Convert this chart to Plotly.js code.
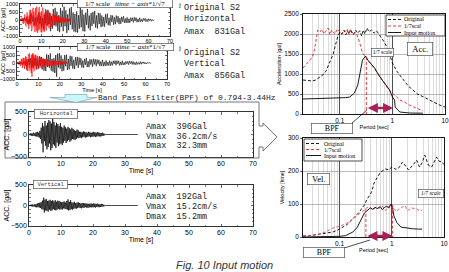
<!DOCTYPE html>
<html><head><meta charset="utf-8">
<script src="https://cdn.plot.ly/plotly-3.0.1.min.js"></script>
<style>html,body{margin:0;padding:0;background:#fff}#fig{width:449px;height:272px}</style>
</head><body><div id="fig"></div>
<script>
// ---------- acceleration records [gal] ----------
const dtOrig = 0.42;                  // sampling of the plotted original records [s]
const timeScale = 1 / Math.sqrt(7);   // 1/7 model: time axis * 1/sqrt(7)

const hOrig = [
  0, 40, -30, 90, -60, 150, -40, 120, -200, 60,
  -250, 120, -180, 350, -90, 280, -320, 150, -400, 210,
  -150, 480, -280, 220, -460, 120, -560, 300, -200, 600,
  -340, 640, -250, 460, -700, 240, -540, 680, -320, 760,
  -400, 520, -680, 300, -760, 740, -420, 580, -700, 831,
  -390, 600, -810, 360, -640, 720, -300, 810, -580, 470,
  -720, 380, -760, 540, -790, 300, -540, 780, -460, 640,
  -700, 340, -720, 460, -300, 690, -520, 280, -650, 440,
  -380, 500, -240, 570, -470, 290, -530, 440, -250, 420,
  -450, 280, -400, 180, -420, 350, -200, 400, -320, 140,
  -350, 300, -120, 280, -300, 160, -260, 280, -150, 240,
  -260, 120, -240, 200, -110, 230, -180, 90, -190, 170,
  -180, 80, -170, 150, -60, 140, -150, 170, -70, 150,
  -140, 60, -130, 140, -110, 50, -120, 100, -40, 110,
  -100, 50, -100, 80, -40, 70, -80, 30, -50, 0
];
const vOrig = [
  0, 30, -20, 80, -60, 40, -120, 90, -50, 130,
  -180, 70, -160, 250, -100, 280, -300, 120, -260, 320,
  -150, 300, -380, 200, -320, 420, -180, 380, -400, 250,
  -480, 220, -500, 550, -250, 500, -300, 600, -480, 260,
  -550, 300, -620, 500, -856, 580, -280, 620, -350, 480,
  -520, 260, -480, 500, -200, 520, -420, 250, -400, 450,
  -180, 420, -350, 200, -380, 350, -150, 380, -300, 340,
  -120, 300, -280, 150, -300, 260, -110, 300, -250, 120,
  -260, 240, -100, 220, -240, 260, -90, 230, -200, 220,
  -80, 200, -190, 90, -180, 190, -200, 70, -180, 160,
  -170, 60, -160, 150, -170, 80, -150, 140, -60, 150,
  -140, 150, -50, 140, -150, 60, -130, 140, -120, 40,
  -120, 110, -50, 100, -110, 120, -40, 110, -90, 100,
  -100, 40, -110, 80, -90, 30, -80, 90, -80, 70,
  -30, 70, -60, 20, -60, 50, -20, 40, -30, 0
];

// band-pass filtered input motions (1/7 model time)
const dtBpf = 0.2;
const bpfRecordEnd = 34;
const hBpf = [
  0, 10, -20, 30, -25, 20, -35, 40, -30, 25,
  -40, 50, -45, 60, -50, 40, -70, 80, -100, 150,
  -200, 250, -396, 180, -150, 300, -250, 200, -330, 260,
  -280, 320, -200, 290, -350, 240, -300, 350, -220, 280,
  -250, 200, -300, 260, -180, 230, -260, 190, -220, 250,
  -200, 170, -230, 150, -180, 200, -140, 160, -190, 130,
  -150, 170, -120, 140, -160, 110, -130, 150, -100, 120,
  -110, 90, -120, 80, -100, 110, -70, 90, -80, 60,
  -70, 60, -80, 50, -60, 70, -50, 60, -70, 50,
  -60, 40, -50, 60, -40, 50, -60, 40, -50, 45,
  -50, 60, -40, 50, -55, 40, -45, 50, -40, 45,
  -40, 35, -45, 30, -35, 40, -30, 25, -20, 0
];
const vBpf = [
  0, 10, -15, 20, -20, 25, -30, 20, -25, 30,
  -40, 35, -45, 50, -40, 60, -50, 70, -60, 80,
  -90, 120, -100, 192, -170, 140, -120, 160, -130, 110,
  -150, 120, -100, 140, -130, 110, -120, 130, -90, 100,
  -110, 130, -120, 90, -100, 120, -80, 110, -100, 90,
  -90, 80, -100, 90, -70, 100, -80, 70, -90, 110,
  -100, 150, -120, 90, -110, 130, -90, 80, -100, 70,
  -80, 90, -70, 60, -80, 70, -60, 80, -50, 60,
  -60, 50, -70, 60, -50, 60, -60, 50, -40, 55,
  -50, 45, -55, 40, -50, 45, -40, 50, -45, 40,
  -45, 50, -40, 45, -50, 40, -35, 45, -40, 35,
  -40, 30, -35, 40, -30, 35, -25, 20, -15, 0
];

// ---------- response spectra ----------
const accPeriodOrig = [0.02,0.025,0.03,0.035,0.04,0.045,0.05,0.055,0.06,0.065,0.07,0.075,0.08,0.085,0.09,0.1,0.11,0.12,0.13,0.14,0.15,0.16,0.17,0.18,0.2,0.22,0.24,0.26,0.28,0.3,0.33,0.36,0.4,0.45,0.5,0.55,0.6,0.7,0.8,0.9,1.0,1.2,1.4,1.7,2,2.5,3,4,5,6,7,8,10];
const accOrig       = [850,830,825,850,900,950,1000,1080,1200,1300,1400,1500,1650,1800,1900,2050,2000,2100,1980,2080,2000,2120,2050,1980,2100,2020,2080,1950,2100,2000,2150,2050,2100,2020,2080,2000,1950,1800,1650,1450,1280,1080,950,820,700,580,500,420,350,300,260,220,175];
const accPeriodScaled = [0.02,0.022,0.025,0.028,0.03,0.033,0.036,0.038,0.042,0.046,0.05,0.055,0.06,0.065,0.07,0.075,0.08,0.09,0.1,0.11,0.12,0.13,0.14,0.15,0.16,0.18,0.2,0.21,0.24,0.27,0.31,0.36,0.41,0.5,0.58,0.7,0.81,0.95,1.1,1.38,1.7,2.1,2.8,3.8];
const accScaled       = [1150,1220,1300,1380,1420,1600,1925,2100,2050,2120,2000,2080,2150,1980,2100,2050,2000,2120,2060,1990,2100,2040,2110,1980,2060,2000,2050,2000,1775,1525,1425,1300,1225,1050,925,760,650,530,475,350,300,225,160,75];
const accPeriodInput = [0.02,0.03,0.05,0.07,0.1,0.13,0.155,0.19,0.22,0.24,0.26,0.27,0.31,0.34,0.41,0.46,0.58,0.72,0.89,1.0,1.1,1.13,1.38,2.1,3.8];
const accInput       = [375,380,385,390,400,410,425,525,725,975,1175,1350,1450,1350,1225,1150,925,775,600,425,350,175,50,25,20];

const velPeriodOrig = [0.02,0.03,0.042,0.055,0.074,0.09,0.114,0.14,0.18,0.21,0.24,0.27,0.3,0.33,0.37,0.41,0.46,0.53,0.61,0.76,0.88,1.0,1.2,1.38,1.6,1.85,2.1,2.6,3.0,3.4,3.8,4.3,5.0,5.8,6.5,7.2,8.0,9.0,10];
const velOrig       = [3,5,9,11,15,20,30,38,55,65,76,88,97,112,125,136,164,182,197,206,204,212,205,210,227,215,203,220,233,212,225,248,218,212,228,242,230,227,220];
const velPeriodScaled = [0.02,0.03,0.042,0.055,0.074,0.09,0.114,0.155,0.21,0.26,0.33,0.38,0.43,0.5,0.58,0.66,0.76,0.87,1.0,1.1,1.2,1.38,1.6,1.8,2.0,2.4,3.0,3.5,3.8];
const velScaled       = [2,5,9,16,27,31,36,46,64,76,88,92,82,90,87,94,80,93,100,86,78,85,91,95,80,88,85,78,82];
const velPeriodInput = [0.02,0.05,0.074,0.1,0.13,0.18,0.22,0.26,0.3,0.35,0.39,0.43,0.48,0.53,0.6,0.66,0.73,0.8,0.88,0.97,1.03,1.1,1.25,1.5,1.85,2.5,3.3,3.8];
const velInput       = [0,0,1,2,4,15,30,52,73,82,88,84,90,86,92,83,90,93,88,100,90,64,44,30,27,25,24,24];

const bpfPeriods = [0.32, 1.03];   // band edges marked on the spectra [s]

// ---------- helpers ----------
const W = 449, H = 272;
const px = x => x / W;
const py = y => 1 - y / H;
const times = (n, dt, scale) => Array.from({length: n}, (_, i) => i * dt * scale);

const sans = 'Liberation Sans, Arial, sans-serif';
const serif = 'Liberation Serif, Times New Roman, serif';
const mono = 'Liberation Mono, Courier New, monospace';

const traces = [];
// original records: black = prototype time, red = 1/7 scaled time
traces.push({x: times(hOrig.length, dtOrig, 1), y: hOrig, xaxis: 'x', yaxis: 'y', mode: 'lines', line: {color: '#000', width: 0.6}});
traces.push({x: times(hOrig.length, dtOrig, timeScale), y: hOrig, xaxis: 'x', yaxis: 'y', mode: 'lines', line: {color: '#ff0000', width: 0.6}});
traces.push({x: times(vOrig.length, dtOrig, 1), y: vOrig, xaxis: 'x2', yaxis: 'y2', mode: 'lines', line: {color: '#000', width: 0.6}});
traces.push({x: times(vOrig.length, dtOrig, timeScale), y: vOrig, xaxis: 'x2', yaxis: 'y2', mode: 'lines', line: {color: '#ff0000', width: 0.6}});
// filtered inputs
function withTail(vals) {
  const t = times(vals.length, dtBpf, 1);
  return {x: t.concat([bpfRecordEnd]), y: vals.concat([0])};
}
const hb = withTail(hBpf), vb = withTail(vBpf);
traces.push({x: hb.x, y: hb.y, xaxis: 'x3', yaxis: 'y3', mode: 'lines', line: {color: '#000', width: 0.7}});
traces.push({x: vb.x, y: vb.y, xaxis: 'x4', yaxis: 'y4', mode: 'lines', line: {color: '#000', width: 0.7}});
// acceleration spectra
traces.push({x: accPeriodOrig, y: accOrig, xaxis: 'x5', yaxis: 'y5', mode: 'lines', line: {color: '#000', width: 0.9, dash: '3px,2px'}});
traces.push({x: accPeriodScaled, y: accScaled, xaxis: 'x5', yaxis: 'y5', mode: 'lines', line: {color: '#e8202a', width: 0.9, dash: '3px,2px'}});
traces.push({x: accPeriodInput, y: accInput, xaxis: 'x5', yaxis: 'y5', mode: 'lines', line: {color: '#000', width: 0.9}});
traces.push({x: [bpfPeriods[0], bpfPeriods[0]], y: [1425, 0], xaxis: 'x5', yaxis: 'y5', mode: 'lines', line: {color: '#e8202a', width: 0.9, dash: '3px,2px'}});
// velocity spectra
traces.push({x: velPeriodOrig, y: velOrig, xaxis: 'x6', yaxis: 'y6', mode: 'lines', line: {color: '#000', width: 0.9, dash: '3px,2px'}});
traces.push({x: velPeriodScaled, y: velScaled, xaxis: 'x6', yaxis: 'y6', mode: 'lines', line: {color: '#e8505a', width: 0.9, dash: '3px,2px'}});
traces.push({x: velPeriodInput, y: velInput, xaxis: 'x6', yaxis: 'y6', mode: 'lines', line: {color: '#000', width: 0.9}});
traces.push({x: [bpfPeriods[0], bpfPeriods[0]], y: [85, 0], xaxis: 'x6', yaxis: 'y6', mode: 'lines', line: {color: '#e8202a', width: 0.9, dash: '3px,2px'}});
traces.push({x: [bpfPeriods[1], bpfPeriods[1]], y: [95, 0], xaxis: 'x6', yaxis: 'y6', mode: 'lines', line: {color: '#e8202a', width: 0.9, dash: '3px,2px'}});
traces.forEach(t => { t.showlegend = false; t.hoverinfo = 'skip'; });

// ---------- axes ----------
function timeAxis(x0, x1, anchor, title, fs) {
  return {
    domain: [px(x0), px(x1)], anchor: anchor, range: [0, 70], dtick: 10,
    ticks: 'inside', ticklen: 2.5, tickwidth: 0.6, tickcolor: '#000',
    minor: {ticks: 'inside', dtick: 5, ticklen: 1.5, tickwidth: 0.5, tickcolor: '#000'},
    showline: true, linecolor: '#000', linewidth: 0.8, mirror: 'ticks',
    showgrid: false, zeroline: false, fixedrange: true,
    tickfont: {family: sans, size: fs, color: '#000'},
    title: title ? {text: title, font: {family: sans, size: fs, color: '#000'}, standoff: 0} : undefined
  };
}
function accAxis(y0, y1, anchor, lim, minorStep, title, fs) {
  return {
    domain: [py(y1), py(y0)], anchor: anchor, range: [-lim, lim], dtick: 500,
    ticks: 'inside', ticklen: 2.5, tickwidth: 0.6, tickcolor: '#000',
    minor: {ticks: 'inside', dtick: minorStep, ticklen: 1.5, tickwidth: 0.5, tickcolor: '#000'},
    showline: true, linecolor: '#000', linewidth: 0.8, mirror: 'ticks',
    showgrid: false, zeroline: false, fixedrange: true,
    tickfont: {family: sans, size: fs, color: '#000'},
    title: {text: title, font: {family: sans, size: fs, color: '#000'}, standoff: 0}
  };
}
const minorPeriods = [];
[0.01, 0.1, 1].forEach(d => { for (let k = 2; k <= 9; k++) minorPeriods.push(+(k * d).toFixed(3)); });
function periodAxis(x0, x1, anchor) {
  return {
    domain: [px(x0), px(x1)], anchor: anchor, type: 'log',
    range: [Math.log10(0.02), 1], tickvals: [0.1, 1, 10], ticktext: ['0.1', '1', '10'],
    ticks: '', showgrid: true, gridcolor: '#222', gridwidth: 0.8,
    minor: {tickmode: 'array', tickvals: minorPeriods, showgrid: true, gridcolor: '#b8b8b8', gridwidth: 0.5, ticks: ''},
    showline: true, linecolor: '#000', linewidth: 0.9, mirror: true, zeroline: false, fixedrange: true,
    tickfont: {family: sans, size: 6.5, color: '#000'},
    title: {text: 'Period [sec]', font: {family: sans, size: 5.5, color: '#000'}, standoff: 2}
  };
}
function specAxis(y0, y1, anchor, max, dt, title) {
  return {
    domain: [py(y1), py(y0)], anchor: anchor, range: [0, max], dtick: dt,
    ticks: 'outside', ticklen: 2, tickwidth: 0.6, tickcolor: '#000',
    showgrid: true, gridcolor: '#8a8a8a', gridwidth: 0.6,
    showline: true, linecolor: '#000', linewidth: 0.9, mirror: true, zeroline: false, fixedrange: true,
    tickfont: {family: sans, size: 6.5, color: '#000'},
    title: {text: title, font: {family: sans, size: 5.5, color: '#000'}, standoff: 2}
  };
}

// ---------- annotations ----------
const ann = [];
function txt(x, y, text, font, opts) {
  ann.push(Object.assign({xref: 'paper', yref: 'paper', x: px(x), y: py(y), text: text, showarrow: false,
    xanchor: 'left', yanchor: 'middle', font: font}, opts || {}));
}
function boxed(cx, cy, w, h, text, font) {
  ann.push({xref: 'paper', yref: 'paper', x: px(cx), y: py(cy), text: text, showarrow: false,
    xanchor: 'center', yanchor: 'middle', width: w, height: h, align: 'center', valign: 'middle',
    bgcolor: '#fff', bordercolor: '#555', borderwidth: 0.7, borderpad: 0, font: font});
}
const monoF = {family: mono, size: 8.5, color: '#222'};
const scaleNote = '1/7 scale&nbsp;&nbsp;&nbsp;<i>itime − axis</i>*1/√7';

boxed(125, 3.5, 95, 8, scaleNote, {family: serif, size: 7, color: '#000'});
txt(176, 5, 'j', {family: serif, size: 7, color: '#000'});
boxed(125, 46.8, 96, 7, scaleNote, {family: serif, size: 7, color: '#000'});
txt(176, 48, 'j', {family: serif, size: 7, color: '#000'});

txt(182, 8, 'Original S2', monoF);
txt(182, 19.5, 'Horizontal', monoF);
txt(182, 31.5, 'Amax&nbsp;&nbsp;831Gal', monoF);
txt(182, 53, 'Original S2', monoF);
txt(182, 64, 'Vertical', monoF);
txt(182, 76, 'Amax&nbsp;&nbsp;856Gal', monoF);

txt(96, 97.5, 'Band Pass Filter(BPF) of 0.794-3.44Hz', {family: mono, size: 8, color: '#222'});

boxed(55.5, 114, 43, 8.5, 'Horizontal', {family: mono, size: 5.5, color: '#333'});
txt(144, 127, 'Amax&nbsp;&nbsp;396Gal', monoF);
txt(144, 136.5, 'Vmax&nbsp;&nbsp;36.2cm/s', monoF);
txt(144, 146, 'Dmax&nbsp;&nbsp;32.3mm', monoF);

boxed(50.5, 184, 34, 8, 'Vertical', {family: mono, size: 5.5, color: '#333'});
txt(144, 197, 'Amax&nbsp;&nbsp;192Gal', monoF);
txt(144, 207, 'Vmax&nbsp;&nbsp;15.2cm/s', monoF);
txt(144, 217, 'Dmax&nbsp;&nbsp;15.2mm', monoF);

// spectra labels
boxed(420, 48.5, 25, 13, 'Acc.', {family: serif, size: 8.5, color: '#000'});
boxed(382, 52, 22, 7.5, '1/7 scale', {family: serif, size: 5.5, color: '#000'});
boxed(331.5, 128, 41, 10, 'BPF', {family: serif, size: 8, color: '#000'});
boxed(318.5, 179, 22, 11, 'Vel.', {family: serif, size: 8.5, color: '#000'});
boxed(431, 193, 25, 7.5, '<i>1/7 scale</i>', {family: serif, size: 5.5, color: '#000'});
boxed(323.5, 252, 41, 9.5, 'BPF', {family: serif, size: 8, color: '#000'});

// legends
const legF = {family: serif, size: 6, color: '#000'};
const legendNames = ['Original', '1/7scal', 'Input motion'];
[19.5, 26, 32.5].forEach((y, i) => txt(402, y, legendNames[i], legF));
[143.5, 149.5, 155.5].forEach((y, i) => txt(322, y, legendNames[i], legF));

// BPF period-range arrows
ann.push({xref: 'x5', yref: 'y5', axref: 'x5', ayref: 'y5', x: Math.log10(bpfPeriods[1]), y: 150,
  ax: Math.log10(bpfPeriods[0]), ay: 150, text: '', showarrow: true, arrowside: 'end+start',
  arrowhead: 2, arrowsize: 0.8, arrowwidth: 2.5, arrowcolor: '#a8205a'});
ann.push({xref: 'x6', yref: 'y6', axref: 'x6', ayref: 'y6', x: Math.log10(bpfPeriods[1]), y: 3,
  ax: Math.log10(bpfPeriods[0]), ay: 3, text: '', showarrow: true, arrowside: 'end+start',
  arrowhead: 2, arrowsize: 0.8, arrowwidth: 2.5, arrowcolor: '#a8205a'});

// caption
ann.push({xref: 'paper', yref: 'paper', x: px(224), y: py(265), text: '<i>Fig. 10 Input motion</i>',
  showarrow: false, xanchor: 'center', yanchor: 'middle', font: {family: sans, size: 11, color: '#333'}});

// ---------- shapes ----------
function path(pts, closed) {
  return pts.map((p, i) => (i ? 'L ' : 'M ') + px(p[0]).toFixed(5) + ',' + py(p[1]).toFixed(5)).join(' ') + (closed ? ' Z' : '');
}
const shapes = [];
// frame around the filtered horizontal record, with the arrow to the spectra
shapes.push({type: 'path', xref: 'paper', yref: 'paper', line: {color: '#555', width: 0.8},
  path: path([[5,158],[5,102],[259,102],[259,126],[263,126],[263,123],[277,137],[263,151],[263,147],[259,147],[259,158]], true)});
// down arrow under the original records
shapes.push({type: 'path', xref: 'paper', yref: 'paper', line: {color: '#6b9aa8', width: 0.6}, fillcolor: '#cdf6fb',
  path: path([[65,94.5],[87,94.5],[87,97.5],[97,97.5],[76,102.5],[50,97.5],[65,97.5]], true)});
// BPF leader lines
shapes.push({type: 'line', xref: 'paper', yref: 'paper', x0: px(352), y0: py(123), x1: px(367), y1: py(110), line: {color: '#000', width: 0.7}});
shapes.push({type: 'line', xref: 'paper', yref: 'paper', x0: px(344), y0: py(248), x1: px(370), y1: py(240), line: {color: '#000', width: 0.7}});
// legend frames and samples
function rect(x0, y0, x1, y1) {
  shapes.push({type: 'rect', xref: 'paper', yref: 'paper', x0: px(x0), y0: py(y0), x1: px(x1), y1: py(y1),
    line: {color: '#000', width: 0.7}, fillcolor: '#fff', layer: 'above'});
}
rect(386, 15, 445, 36);
rect(304, 139, 362, 161);
const sampleStyles = [{color: '#000', dash: '3px,2px'}, {color: '#e8202a', dash: '3px,2px'}, {color: '#000', dash: 'solid'}];
function sample(x0, x1, y, st) {
  shapes.push({type: 'line', xref: 'paper', yref: 'paper', x0: px(x0), y0: py(y), x1: px(x1), y1: py(y),
    line: {color: st.color, width: 0.9, dash: st.dash}, layer: 'above'});
}
[19.5, 26, 32.5].forEach((y, i) => sample(388, 401, y, sampleStyles[i]));
[143.5, 149.5, 155.5].forEach((y, i) => sample(306, 321, y, sampleStyles[i]));

const layout = {
  width: W, height: H, margin: {l: 0, r: 0, t: 0, b: 0},
  paper_bgcolor: '#fff', plot_bgcolor: '#fff', showlegend: false,
  xaxis: timeAxis(20, 170, 'y', null, 5.5),
  yaxis: accAxis(4, 36, 'x', 1000, 250, 'ACC [gal]', 5.5),
  xaxis2: timeAxis(17, 167, 'y2', 'Time [s]', 5.5),
  yaxis2: accAxis(47, 79, 'x2', 1000, 250, 'ACC [gal]', 5.5),
  xaxis3: timeAxis(29, 253, 'y3', 'Time [s]', 7),
  yaxis3: accAxis(112, 157, 'x3', 500, 100, 'ACC. [gal]', 7),
  xaxis4: timeAxis(29, 253, 'y4', 'Time [s]', 7),
  yaxis4: accAxis(185, 226, 'x4', 500, 100, 'ACC. [gal]', 7),
  xaxis5: periodAxis(303, 445, 'y5'),
  yaxis5: specAxis(14, 114, 'x5', 2500, 500, 'Acceleration [gal]'),
  xaxis6: periodAxis(303, 444, 'y6'),
  yaxis6: specAxis(138, 237, 'x6', 300, 100, 'Velocity [kine]'),
  annotations: ann, shapes: shapes
};

Plotly.newPlot('fig', traces, layout, {staticPlot: true, displayModeBar: false});
</script>
</body></html>
